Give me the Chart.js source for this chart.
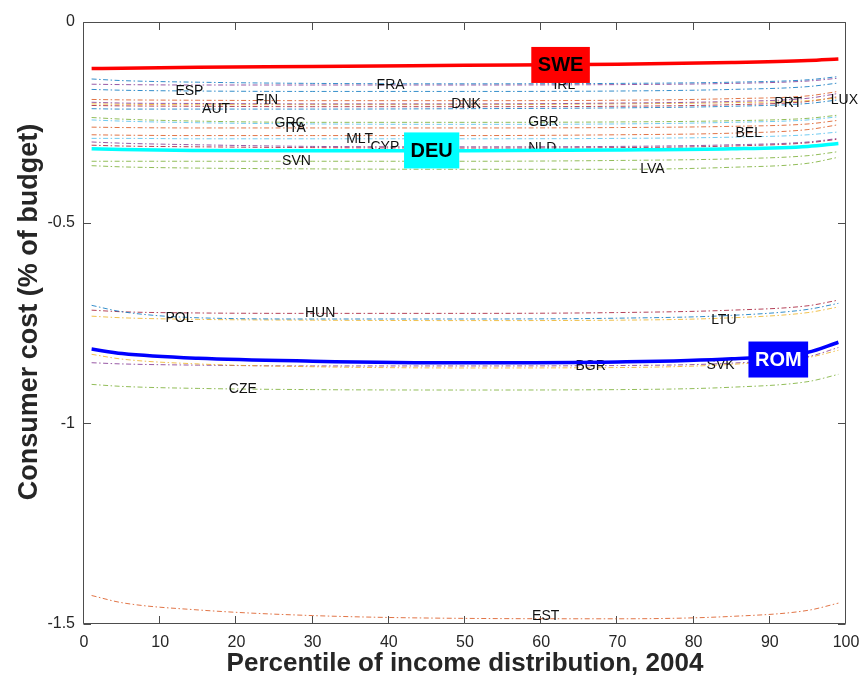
<!DOCTYPE html>
<html>
<head>
<meta charset="utf-8">
<script src="https://cdn.jsdelivr.net/npm/chart.js@4/dist/chart.umd.min.js"></script>
<style>
  html, body { margin: 0; padding: 0; background: #fff; }
  #wrap { width: 861px; height: 684px; }
</style>
</head>
<body>
<div id="wrap"><canvas id="chart" width="861" height="684"></canvas></div>
<script>
// Percentile points at which each country's consumer cost is given
const percentiles = [1, 5, 15, 30, 50, 70, 85, 95, 99];

// Consumer cost (% of budget) by country, one value per percentile above
const SWE = [-0.116, -0.115, -0.113, -0.111, -0.108, -0.105, -0.101, -0.096, -0.092];
const FRA = [-0.142, -0.146, -0.150, -0.153, -0.154, -0.153, -0.150, -0.144, -0.136];
const IRL = [-0.155, -0.156, -0.157, -0.157, -0.157, -0.156, -0.153, -0.147, -0.140];
const ESP = [-0.168, -0.170, -0.172, -0.173, -0.173, -0.172, -0.168, -0.161, -0.152];
const FIN = [-0.193, -0.194, -0.195, -0.196, -0.196, -0.195, -0.191, -0.184, -0.173];
const DNK = [-0.200, -0.202, -0.203, -0.204, -0.204, -0.202, -0.198, -0.190, -0.178];
const LUX = [-0.204, -0.205, -0.206, -0.206, -0.206, -0.204, -0.201, -0.196, -0.189];
const PRT = [-0.208, -0.209, -0.210, -0.211, -0.211, -0.210, -0.206, -0.198, -0.186];
const AUT = [-0.216, -0.217, -0.217, -0.217, -0.216, -0.214, -0.210, -0.203, -0.194];
const GBR = [-0.238, -0.242, -0.247, -0.250, -0.250, -0.249, -0.246, -0.240, -0.232];
const GRC = [-0.244, -0.247, -0.251, -0.254, -0.255, -0.254, -0.250, -0.244, -0.236];
const ITA = [-0.262, -0.263, -0.264, -0.264, -0.264, -0.263, -0.260, -0.254, -0.245];
const BEL = [-0.281, -0.282, -0.283, -0.283, -0.283, -0.281, -0.277, -0.268, -0.256];
const MLT = [-0.290, -0.290, -0.291, -0.291, -0.291, -0.290, -0.287, -0.281, -0.274];
const CYP = [-0.299, -0.302, -0.306, -0.310, -0.311, -0.310, -0.306, -0.299, -0.290];
const NLD = [-0.307, -0.309, -0.311, -0.313, -0.314, -0.313, -0.309, -0.301, -0.292];
const DEU = [-0.316, -0.318, -0.320, -0.321, -0.321, -0.319, -0.316, -0.310, -0.303];
const SVN = [-0.347, -0.347, -0.347, -0.347, -0.347, -0.345, -0.341, -0.333, -0.323];
const LVA = [-0.358, -0.361, -0.364, -0.366, -0.367, -0.367, -0.362, -0.352, -0.337];
const POL = [-0.706, -0.722, -0.737, -0.740, -0.740, -0.738, -0.731, -0.716, -0.701];
const HUN = [-0.718, -0.722, -0.725, -0.726, -0.726, -0.724, -0.718, -0.707, -0.693];
const LTU = [-0.733, -0.737, -0.741, -0.743, -0.744, -0.743, -0.737, -0.724, -0.710];
const ROM = [-0.815, -0.826, -0.838, -0.845, -0.849, -0.847, -0.839, -0.823, -0.798];
const BGR = [-0.828, -0.840, -0.852, -0.859, -0.862, -0.861, -0.853, -0.836, -0.818];
const SVK = [-0.849, -0.852, -0.855, -0.857, -0.857, -0.856, -0.850, -0.834, -0.811];
const CZE = [-0.903, -0.908, -0.913, -0.916, -0.917, -0.916, -0.910, -0.896, -0.878];
const EST = [-1.429, -1.447, -1.465, -1.479, -1.486, -1.487, -1.481, -1.466, -1.448];

// Country codes, in drawing order
const countries = ['FRA', 'IRL', 'ESP', 'FIN', 'DNK', 'LUX', 'PRT', 'AUT', 'GBR', 'GRC', 'ITA',
  'BEL', 'MLT', 'CYP', 'NLD', 'SVN', 'LVA', 'POL', 'HUN', 'LTU', 'BGR', 'SVK', 'CZE', 'EST',
  'SWE', 'DEU', 'ROM'];

// Where each country's name sits along its curve (percentile, cost)
const labelPercentile = [38.4, 61.6, 12, 22.5, 48.2, 98, 90.6, 15.5, 58.3, 25, 26.4,
  85.5, 34.4, 37.6, 58.3, 26, 73, 10.7, 29, 82.3, 64.5, 81.7, 19, 58.8,
  58.7, 42, 87.2];
const labelCost = [-0.157, -0.157, -0.172, -0.194, -0.204, -0.194, -0.202, -0.217, -0.249, -0.252, -0.264,
  -0.277, -0.292, -0.312, -0.314, -0.347, -0.367, -0.738, -0.726, -0.743, -0.858, -0.855, -0.915, -1.481,
  -0.107, -0.320, -0.841];

// Countries drawn as thick solid lines with boxed names
const highlighted = ['SWE', 'DEU', 'ROM'];

const costs = { SWE, FRA, IRL, ESP, FIN, DNK, LUX, PRT, AUT, GBR, GRC, ITA, BEL, MLT, CYP, NLD,
  DEU, SVN, LVA, POL, HUN, LTU, ROM, BGR, SVK, CZE, EST };

// ---- styling ----
const lineColors = {
  FRA: '#0072BD', IRL: '#7E2F8E', ESP: '#0072BD', FIN: '#D95319', DNK: '#7E2F8E', LUX: '#EDB120',
  PRT: '#A2142F', AUT: '#0072BD', GBR: '#77AC30', GRC: '#4DBEEE', ITA: '#D95319', BEL: '#D95319',
  MLT: '#4DBEEE', CYP: '#7E2F8E', NLD: '#A2142F', SVN: '#77AC30', LVA: '#77AC30', POL: '#0072BD',
  HUN: '#A2142F', LTU: '#EDB120', BGR: '#EDB120', SVK: '#7E2F8E', CZE: '#77AC30', EST: '#D95319',
  SWE: '#FF0000', DEU: '#00FFFF', ROM: '#0000FF'
};
const boxText = { SWE: '#000000', DEU: '#000000', ROM: '#FFFFFF' };
const FONT = '"Liberation Sans", Arial, Helvetica, sans-serif';
const AXIS_COLOR = '#262626';
const Y_TITLE = 'Consumer cost (% of budget)';

function hexA(hex, a) {
  const n = parseInt(hex.slice(1), 16);
  return `rgba(${(n >> 16) & 255},${(n >> 8) & 255},${n & 255},${a})`;
}

const datasets = countries.map(code => {
  const hi = highlighted.includes(code);
  return {
    label: code,
    data: percentiles.map((p, i) => ({ x: p, y: costs[code][i] })),
    borderColor: hi ? lineColors[code] : hexA(lineColors[code], 0.8),
    borderWidth: hi ? 3.5 : 1,
    borderDash: hi ? [] : [5, 2.5, 1.5, 2.5],
    cubicInterpolationMode: 'monotone',
    pointRadius: 0,
    fill: false,
    order: hi ? 0 : 1
  };
});

// Box, inward ticks on all four sides, and the vertical axis title
const framePlugin = {
  id: 'frame',
  beforeDatasetsDraw(chart) {
    const { ctx, chartArea: a, scales: { x, y } } = chart;
    const L = Math.round(a.left) - 0.5, R = Math.round(a.right) - 0.5;
    const T = Math.round(a.top) + 0.5, B = Math.round(a.bottom) - 0.5;
    const tl = 7.5;
    ctx.save();
    ctx.strokeStyle = '#4d4d4d';
    ctx.lineWidth = 1;
    ctx.beginPath();
    ctx.rect(L, T, R - L, B - T);
    x.ticks.forEach(t => {
      const px = Math.round(x.getPixelForValue(t.value)) - 0.5;
      ctx.moveTo(px, B); ctx.lineTo(px, B - tl);
      ctx.moveTo(px, T); ctx.lineTo(px, T + tl);
    });
    y.ticks.forEach(t => {
      const py = Math.round(y.getPixelForValue(t.value)) + 0.5;
      ctx.moveTo(L, py); ctx.lineTo(L + tl, py);
      ctx.moveTo(R, py); ctx.lineTo(R - tl, py);
    });
    ctx.stroke();

    ctx.translate(30, 312);
    ctx.rotate(-Math.PI / 2);
    ctx.font = `bold 27px ${FONT}`;
    ctx.fillStyle = AXIS_COLOR;
    ctx.textAlign = 'center';
    ctx.textBaseline = 'middle';
    ctx.fillText(Y_TITLE, 0, 0);
    ctx.restore();
  }
};

// Country names: plain names go beneath the thick lines, boxed names on top
const labelPlugin = {
  id: 'countryLabels',
  beforeDatasetsDraw(chart) { chart.$plainDone = false; },
  beforeDatasetDraw(chart, args) {
    const code = chart.data.datasets[args.index].label;
    if (chart.$plainDone || !highlighted.includes(code)) return;
    chart.$plainDone = true;
    const { ctx, scales: { x, y } } = chart;
    ctx.save();
    ctx.font = `14px ${FONT}`;
    ctx.fillStyle = '#111111';
    ctx.textAlign = 'left';
    ctx.textBaseline = 'middle';
    countries.forEach((c, i) => {
      if (highlighted.includes(c)) return;
      ctx.fillText(c, x.getPixelForValue(labelPercentile[i]), y.getPixelForValue(labelCost[i]));
    });
    ctx.restore();
  },
  afterDatasetsDraw(chart) {
    const { ctx, scales: { x, y } } = chart;
    ctx.save();
    ctx.font = `bold 20px ${FONT}`;
    ctx.textAlign = 'left';
    ctx.textBaseline = 'middle';
    countries.forEach((c, i) => {
      if (!highlighted.includes(c)) return;
      const px = x.getPixelForValue(labelPercentile[i]);
      const py = y.getPixelForValue(labelCost[i]);
      const w = ctx.measureText(c).width + 13;
      ctx.fillStyle = lineColors[c];
      ctx.fillRect(px, py - 18, w, 36);
      ctx.fillStyle = boxText[c];
      ctx.fillText(c, px + 6.5, py + 1);
    });
    ctx.restore();
  }
};

new Chart(document.getElementById('chart'), {
  type: 'line',
  data: { datasets },
  options: {
    responsive: false,
    animation: false,
    devicePixelRatio: 1,
    layout: { padding: { top: 22, right: 15, left: 0, bottom: 0 } },
    plugins: { legend: { display: false }, tooltip: { enabled: false } },
    scales: {
      x: {
        type: 'linear', min: 0, max: 100,
        ticks: { stepSize: 10, color: AXIS_COLOR, padding: 9, maxRotation: 0, font: { family: FONT, size: 16 } },
        grid: { display: false, drawTicks: false },
        border: { display: false },
        title: {
          display: true, text: 'Percentile of income distribution, 2004', color: AXIS_COLOR,
          font: { family: FONT, size: 26, weight: 'bold' }, padding: { top: 0, bottom: 5 }
        },
        afterFit(s) { s.height = 60; s.paddingLeft = 0; s.paddingRight = 0; }
      },
      y: {
        type: 'linear', min: -1.5, max: 0,
        ticks: {
          stepSize: 0.5, color: AXIS_COLOR, padding: 9, font: { family: FONT, size: 16 },
          callback: v => String(v)
        },
        grid: { display: false, drawTicks: false },
        border: { display: false },
        title: { display: false },
        afterFit(s) { s.width = 84; s.paddingTop = 0; s.paddingBottom = 0; }
      }
    }
  },
  plugins: [framePlugin, labelPlugin]
});
</script>
</body>
</html>
